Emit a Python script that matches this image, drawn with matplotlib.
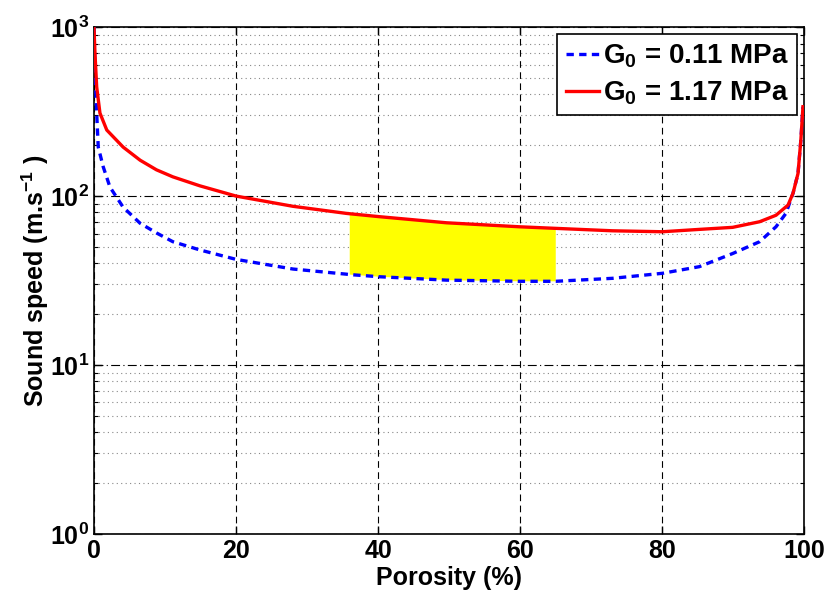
"""Sound speed vs porosity for two shear moduli, MATLAB-style log plot."""
import matplotlib
matplotlib.use("Agg")
import matplotlib.pyplot as plt
import numpy as np
from matplotlib.ticker import LogLocator, NullFormatter

plt.rcParams["font.family"] = ["Liberation Sans", "DejaVu Sans"]
plt.rcParams["mathtext.fontset"] = "custom"
plt.rcParams["mathtext.rm"] = "Liberation Sans:bold"
plt.rcParams["mathtext.default"] = "rm"

# G0 = 0.11 MPa (blue dashed)
porosity_low = [0.0, 0.14, 0.38, 0.6, 1.3, 2.25, 4.1, 6.5, 8.8, 11.1, 14.9,
                20.0, 28.0, 35.5, 36.0, 40.2, 49.6, 59.9, 65.0, 73.0, 80.0,
                85.2, 89.9, 93.7, 96.0, 97.4, 98.4, 99.1, 99.5, 99.8]
speed_low = [1000, 557, 310, 195, 149, 113, 86, 69, 60.5, 53.7, 48,
             42.2, 37, 34.5, 34.3, 33.3, 31.8, 31.3, 31.3, 32.6, 34.9,
             38.2, 45.7, 53.7, 65.8, 79, 104, 136, 214, 338]

# G0 = 1.17 MPa (red solid)
porosity_high = [0.0, 0.14, 0.38, 0.84, 1.8, 4.1, 6.5, 8.8, 11.1, 14.9,
                 20.0, 28.0, 35.5, 36.0, 40.2, 49.6, 59.9, 65.0, 73.0, 80.0,
                 85.2, 89.9, 93.7, 96.0, 97.7, 98.4, 99.1, 99.5, 99.8]
speed_high = [1000, 702, 443, 310, 246, 195, 163, 143, 130, 115,
              100, 87, 79, 78.6, 75.5, 69.5, 65.8, 64.4, 62.3, 61.5,
              63.5, 65.3, 70.5, 77, 88.5, 104, 136, 214, 338]

shade_lo, shade_hi = 36.0, 65.0


def main():
    xl, yl = np.array(porosity_low), np.array(speed_low)
    xh, yh = np.array(porosity_high), np.array(speed_high)

    fig = plt.figure(figsize=(8.28, 5.9), dpi=100)
    ax = fig.add_axes([0.1135, 0.095, 0.858, 0.859])

    # yellow band between the two curves over the shaded porosity range
    ml = (xl >= shade_lo) & (xl <= shade_hi)
    mh = (xh >= shade_lo) & (xh <= shade_hi)
    band_x = np.concatenate([xh[mh], xl[ml][::-1]])
    band_y = np.concatenate([yh[mh], yl[ml][::-1]])
    ax.fill(band_x, band_y, color="yellow", linewidth=0, zorder=1)

    ax.plot(xl, yl, color="blue", linewidth=2.4, linestyle=(0, (2.2, 1.6)),
            label=r"G$_0$ = 0.11 MPa", zorder=3)
    ax.plot(xh, yh, "-", color="red", linewidth=2.4,
            label=r"G$_0$ = 1.17 MPa", zorder=3)

    ax.set_yscale("log")
    ax.set_xlim(0, 100)
    ax.set_ylim(1, 1000)
    ax.set_xticks([0, 20, 40, 60, 80, 100])
    ax.yaxis.set_major_locator(LogLocator(base=10, numticks=10))
    ax.yaxis.set_minor_locator(LogLocator(base=10, subs=np.arange(2, 10), numticks=10))
    ax.yaxis.set_minor_formatter(NullFormatter())

    ax.grid(True, axis="x", which="major", color="black", linestyle=(0, (6, 4)), linewidth=0.8)
    ax.grid(True, axis="y", which="major", color="black", linestyle=(0, (8, 3, 1, 3)), linewidth=0.8)
    ax.grid(True, axis="y", which="minor", color="#888888", linestyle=(0, (1, 3)), linewidth=0.8)
    ax.set_axisbelow(True)

    ax.tick_params(which="both", direction="in", top=True, right=True)
    ax.tick_params(which="major", length=6, width=1, labelsize=18)
    ax.tick_params(which="minor", length=3, width=0.8)
    for lab in ax.get_xticklabels() + ax.get_yticklabels():
        lab.set_fontweight("bold")
    for sp in ax.spines.values():
        sp.set_linewidth(1.2)

    ax.set_xlabel("Porosity (%)", fontsize=18, fontweight="bold", labelpad=2)
    ax.set_ylabel("Sound speed (m.s$^{-1}$ )", fontsize=18, fontweight="bold", labelpad=-1)

    leg = ax.legend(loc="upper right", prop={"weight": "bold", "size": 20},
                    handlelength=1.2, handletextpad=0.15, borderpad=0.3,
                    labelspacing=0.35, fancybox=False, framealpha=1,
                    borderaxespad=0.25)
    leg.get_frame().set_edgecolor("black")
    leg.get_frame().set_linewidth(1.2)

    fig.savefig("out.png", dpi=100)


if __name__ == "__main__":
    main()
